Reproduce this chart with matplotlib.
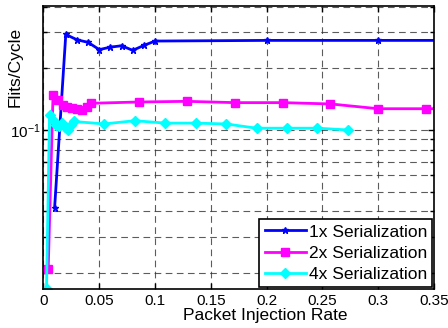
import numpy as np
import matplotlib
matplotlib.use("Agg")
import matplotlib.pyplot as plt
from matplotlib.ticker import FixedLocator, FuncFormatter, LogLocator, NullFormatter

plt.rcParams["font.family"] = ["Liberation Sans", "DejaVu Sans"]

# 1x serialization: step 0.01 up to 0.1, then 0.1
x_1x = [0.01, 0.02, 0.03, 0.04, 0.05, 0.06, 0.07, 0.08, 0.09, 0.10, 0.20, 0.30, 0.40]
y_1x = [0.0417, 0.293, 0.276, 0.268, 0.247, 0.254, 0.258, 0.245, 0.259, 0.272,
        0.274, 0.274, 0.274]

# 2x serialization: step 0.3/70, then 0.3/7
k_2x = [1, 2, 3, 4, 5, 6, 7, 8, 9, 10, 20, 30, 40, 50, 60, 70, 80, 90]
x_2x = [k * 0.3 / 70 for k in k_2x]
y_2x = [0.021, 0.148, 0.140, 0.133, 0.130, 0.128, 0.126, 0.125, 0.129, 0.135,
        0.137, 0.138, 0.136, 0.136, 0.134, 0.127, 0.127, 0.127]

# 4x serialization: step 0.3/110, then 0.3/11
k_4x = [1, 2, 3, 4, 5, 6, 7, 8, 9, 10, 20, 30, 40, 50, 60, 70, 80, 90, 100]
x_4x = [k * 0.3 / 110 for k in k_4x]
y_4x = [0.0167, 0.118, 0.112, 0.106, 0.104, 0.108, 0.103, 0.100, 0.106, 0.110,
        0.107, 0.111, 0.108, 0.108, 0.107, 0.102, 0.102, 0.102, 0.100]

x_ticks = [0, 0.05, 0.10, 0.15, 0.20, 0.25, 0.30, 0.35]

fig = plt.figure(figsize=(4.48, 3.28), dpi=100)
ax = fig.add_axes([0.097, 0.119, 0.872, 0.863])

ax.plot(x_1x, y_1x, color="#0000ff", lw=2, marker="*", ms=5,
        label="1x Serialization")
ax.plot(x_2x, y_2x, color="#ff00ff", lw=2, marker="s", ms=6,
        label="2x Serialization")
ax.plot(x_4x, y_4x, color="#00ffff", lw=2, marker="D", ms=5,
        label="4x Serialization")

ax.set_yscale("log")
ax.set_xlim(0, 0.35)
ax.set_ylim(0.0167, 0.404)

ax.xaxis.set_major_locator(FixedLocator(x_ticks))
ax.xaxis.set_major_formatter(FuncFormatter(lambda v, p: f"{v:g}"))
ax.yaxis.set_minor_locator(LogLocator(base=10, subs=np.arange(2, 10)))
ax.yaxis.set_minor_formatter(NullFormatter())

ax.tick_params(which="both", direction="in", top=True, right=True,
               labelsize=11, width=1)
ax.tick_params(which="major", length=4)
ax.tick_params(which="minor", length=3)
ax.tick_params(axis="y", pad=2)

ax.grid(True, which="major", color="#333333", ls=(0, (6, 4)), lw=0.8, alpha=0.8)
ax.grid(True, which="minor", axis="y", color="#333333", ls=(0, (6, 4)), lw=0.8,
        alpha=0.8)

for side in ax.spines.values():
    side.set_linewidth(1.2)

ax.set_xlabel("Packet Injection Rate", fontsize=12.5)
ax.set_ylabel("Flits/Cycle", fontsize=12.5)
ax.xaxis.set_label_coords(0.567, -0.068)
ax.yaxis.set_label_coords(-0.053, 0.785)

leg = ax.legend(loc="lower right", fontsize=12.5, fancybox=False,
                framealpha=1, edgecolor="black", borderpad=0.3,
                labelspacing=0.35, handlelength=2.4, handletextpad=0.15,
                borderaxespad=0.1)
leg.get_frame().set_linewidth(1.2)

fig.savefig("out.png", dpi=100)
